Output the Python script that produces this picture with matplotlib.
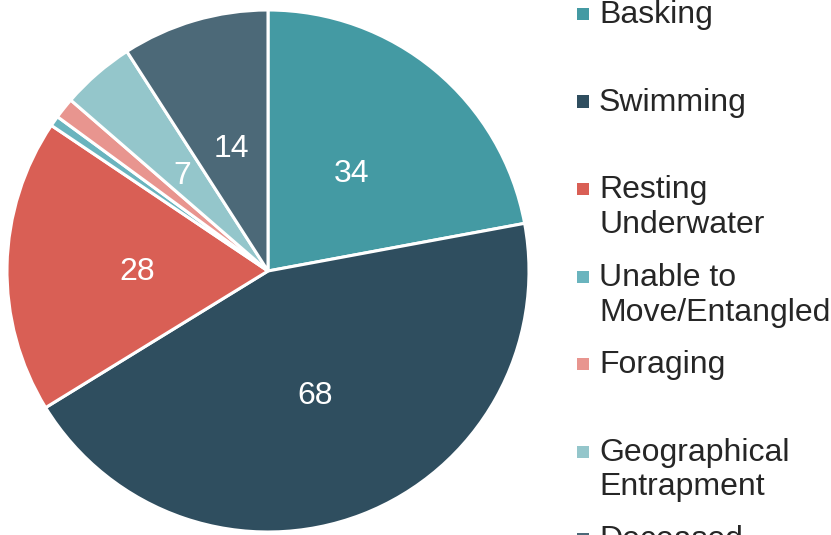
import matplotlib.pyplot as plt
from matplotlib.patches import Rectangle

plt.rcParams['font.family'] = ['Liberation Sans', 'DejaVu Sans']

labels = ["Basking", "Swimming", "Resting\nUnderwater", "Unable to\nMove/Entangled",
          "Foraging", "Geographical\nEntrapment", "Deceased"]
values = [34, 68, 28, 1, 2, 7, 14]
colors = ["#449AA3", "#2F4E5F", "#D95F55", "#6AB4BE", "#E8958F", "#94C6CB", "#4C6978"]

W, H = 831, 535
fig = plt.figure(figsize=(W / 100, H / 100), dpi=100)

# pie centre (268, 271) px, radius ~261 px
cx, cy, r = 268, 271, 261
ax = fig.add_axes([(cx - r) / W, (H - cy - r) / H, 2 * r / W, 2 * r / H])

total = sum(values)


def show_val(pct):
    v = round(pct * total / 100)
    return f"{v}" if v >= 5 else ""


wedges, texts, autotexts = ax.pie(values, colors=colors, startangle=90, counterclock=False,
                                  autopct=show_val, pctdistance=0.5, radius=1,
                                  wedgeprops=dict(edgecolor="white", linewidth=2.2))
for t in autotexts:
    t.set_color("white")
    t.set_fontsize(23)
    t.set_va("center_baseline")
ax.set_xlim(-1, 1)
ax.set_ylim(-1, 1)
ax.set_aspect("equal")
ax.axis("off")

# legend drawn by hand, Excel style (each line placed on its own baseline)
for i, (lab, col) in enumerate(zip(labels, colors)):
    base = 23 + 87.5 * i
    for k, line in enumerate(lab.split("\n")):
        fig.text(599 / W, 1 - (base + 35 * k) / H, line, fontsize=23, color="#262626",
                 ha="left", va="baseline")
    fig.add_artist(Rectangle((577 / W, 1 - (base - 3) / H), 12 / W, 12 / H,
                             transform=fig.transFigure, color=col, lw=0))

fig.savefig("out.png", dpi=100)
